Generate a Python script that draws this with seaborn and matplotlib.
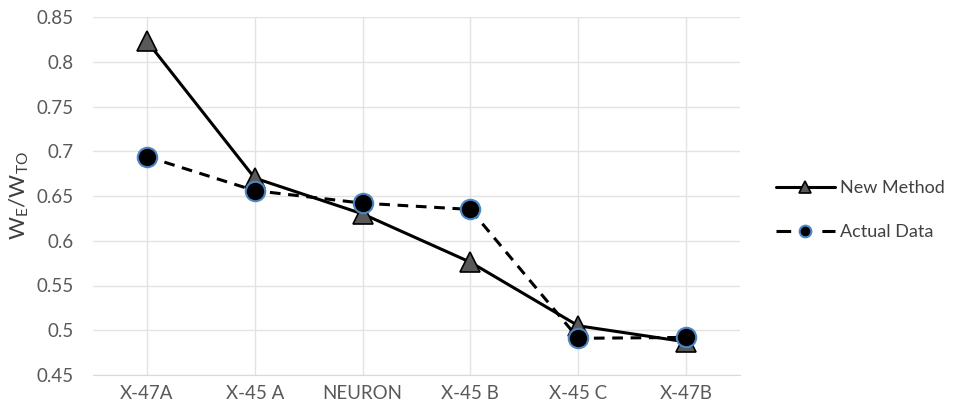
import matplotlib
matplotlib.use("Agg")
import matplotlib.pyplot as plt
import seaborn as sns
import pandas as pd

categories = ["X-47A", "X-45 A", "NEURON", "X-45 B", "X-45 C", "X-47B"]
new_method = [0.823, 0.670, 0.630, 0.576, 0.505, 0.487]
actual_data = [0.694, 0.656, 0.642, 0.635, 0.491, 0.492]
y_ticks = [0.45, 0.5, 0.55, 0.6, 0.65, 0.7, 0.75, 0.8, 0.85]
y_tick_labels = ["0.45", "0.5", "0.55", "0.6", "0.65", "0.7", "0.75", "0.8", "0.85"]

sns.set_style("white")
plt.rcParams['font.family'] = ['Lato', 'DejaVu Sans']
plt.rcParams['mathtext.default'] = 'regular'

df = pd.DataFrame({"x": list(range(len(categories))),
                   "New Method": new_method, "Actual Data": actual_data})

fig = plt.figure(figsize=(9.55, 4.12), dpi=100)
ax = fig.add_axes([93/955, 1-375/412, (740-93)/955, (375-17)/412])

sns.lineplot(data=df, x="x", y="New Method", ax=ax, color="black", lw=2.2,
             marker="^", markersize=15, markerfacecolor="#595959",
             markeredgecolor="black", markeredgewidth=1.2, label="New Method", zorder=3)
sns.lineplot(data=df, x="x", y="Actual Data", ax=ax, color="black", lw=2.2,
             linestyle=(0, (3.5, 2.5)), marker="o", markersize=14,
             markerfacecolor="black", markeredgecolor="#4a86c8",
             markeredgewidth=1.5, label="Actual Data", zorder=4)

ax.set_xlim(-0.5, len(categories) - 0.5)
ax.set_ylim(0.45, 0.85)
ax.set_xticks(range(len(categories)))
ax.set_xticklabels(categories)
ax.set_yticks(y_ticks)
ax.set_yticklabels(y_tick_labels)
ax.tick_params(axis="both", labelsize=13.5, colors="#595959", length=0)
ax.tick_params(axis="y", pad=14)
ax.tick_params(axis="x", pad=7)
ax.grid(True, color="#e3e3e3", lw=1)
ax.set_axisbelow(True)
for s in ["top", "right", "left"]:
    ax.spines[s].set_visible(False)
ax.spines["bottom"].set_color("#d9d9d9")
ax.set_xlabel("")
ax.set_ylabel(r"W$_{E}$/W$_{TO}$", fontsize=16, color="#404040", labelpad=4)

leg = ax.legend(loc="center left", bbox_to_anchor=(1.03, 0.46), frameon=False,
                fontsize=13, handlelength=3.3, labelspacing=1.55, handletextpad=0.25,
                markerscale=0.6)
for t in leg.get_texts():
    t.set_color("#404040")
leg.get_lines()[1].set_linestyle((0, (4.8, 10.2)))

fig.savefig("out.png", dpi=100)
